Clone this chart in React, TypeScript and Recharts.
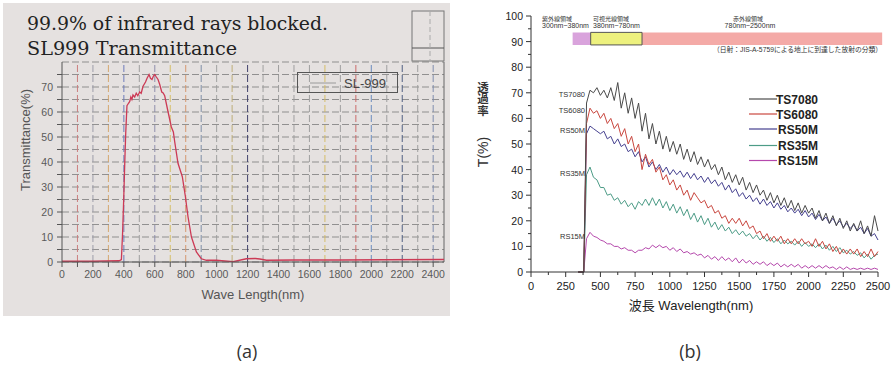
import React from 'react';
import { LineChart, Line, XAxis, YAxis, CartesianGrid, ReferenceLine, ReferenceArea, Legend } from 'recharts';

// ---------- panel (a): SL-999 ----------
const slWave = [0, 200, 370, 384, 392, 399, 406, 412, 420, 430, 438, 445, 452, 459, 470, 480, 490, 502, 512, 524, 540, 550, 563, 572, 582, 592, 600, 610, 621, 632, 645, 654, 664, 686, 707, 720, 729, 750, 778, 798, 815, 837, 869, 901, 934, 998, 1106, 1192, 1250, 1279, 1322, 1500, 1800, 2100, 2470];
const slTrans = [0.3, 0.3, 0.5, 1, 12, 25, 40, 51.5, 62.5, 63.5, 64.2, 66, 65, 66.8, 66, 67.5, 66.5, 68, 67.5, 70.3, 72, 73.5, 75, 73.5, 73, 74.5, 75, 74, 73, 71, 68, 67.6, 66.5, 60, 54, 52, 48, 39.5, 34.1, 26.1, 18, 10, 4, 1.3, 0.7, 0.7, 0.1, 1.3, 1.4, 1.2, 0.7, 0.8, 0.8, 0.9, 1];
const slXTicks = [0, 100, 200, 300, 400, 500, 600, 700, 800, 900, 1000, 1100, 1200, 1300, 1400, 1500, 1600, 1700, 1800, 1900, 2000, 2100, 2200, 2300, 2400];
const slYTicks = [0, 5, 10, 15, 20, 25, 30, 35, 40, 45, 50, 55, 60, 65, 70, 75];
const slGridX = [100, 200, 300, 400, 500, 600, 700, 800, 900, 1000, 1100, 1200, 1300, 1400, 1500, 1600, 1700, 1800, 1900, 2000, 2100, 2200, 2300, 2400];
const slGridColors = ['#c97a7a', '#9a9aa6', '#d4a46a', '#6676b8', '#9c9c9c', '#8a8aaa', '#d4bc62', '#d4946a', '#7a8aa4', '#9c9c9c', '#bcac74', '#3a3a66', '#9c9c9c', '#9c9c9c', '#9c9c9c', '#9c9c9c', '#d4bc62', '#9c9c9c', '#c96464', '#6688bc', '#9c9c9c', '#4a5a7c', '#9c9c9c', '#7a8aac'];

// ---------- panel (b): films ----------
const nmB = [340, 380,
  400, 425, 450, 475, 500, 525, 550, 575,
  600, 625, 650, 675, 700, 725, 750, 775,
  800, 825, 850, 875, 900, 925, 950, 975,
  1000, 1025, 1050, 1075, 1100, 1125, 1150, 1175,
  1200, 1225, 1250, 1275, 1300, 1325, 1350, 1375,
  1400, 1425, 1450, 1475, 1500, 1525, 1550, 1575,
  1600, 1625, 1650, 1675, 1700, 1725, 1750, 1775,
  1800, 1825, 1850, 1875, 1900, 1925, 1950, 1975,
  2000, 2025, 2050, 2075, 2100, 2125, 2150, 2175,
  2200, 2225, 2250, 2275, 2300, 2325, 2350, 2375,
  2400, 2425, 2450, 2475, 2500];
const ts7080 = [0, 0,
  66, 71, 70, 72, 69, 71, 68, 72,
  67, 74, 64, 70, 62, 68, 60, 66,
  55, 62, 52, 58, 50, 55, 48, 53,
  47, 51, 46, 50, 44, 48, 43, 47,
  42, 45, 41, 44, 40, 42, 38, 41,
  36, 39, 35, 38, 34, 37, 32, 35,
  31, 34, 30, 32, 28, 31, 27, 30,
  26, 29, 25, 28, 24, 27, 23, 26,
  23, 25, 21, 24, 20, 23, 19, 22,
  18, 21, 17, 20, 16, 19, 16, 20,
  15, 18, 14, 22, 16];
const ts6080 = [0, 0,
  58, 64, 62, 63, 60, 62, 58, 60,
  56, 58, 53, 56, 50, 53, 47, 50,
  40, 46, 42, 44, 39, 41, 36, 38,
  34, 36, 32, 34, 30, 32, 28, 31,
  29, 27, 28, 25, 26, 23, 24, 21,
  22, 19, 21, 19, 21, 18, 20, 17,
  18, 15, 16, 13, 15, 12, 14, 12,
  14, 11, 13, 11, 13, 11, 13, 11,
  12, 10, 13, 10, 12, 9, 11, 8,
  10, 7, 9, 7, 9, 7, 9, 6,
  8, 6, 9, 6, 8];
const rs50m = [0, 0,
  54, 57, 56, 55, 54, 55, 52, 53,
  50, 52, 49, 50, 47, 48, 45, 47,
  43, 45, 41, 43, 40, 42, 39, 41,
  38, 40, 38, 39.5, 37, 39, 36.5, 38.5,
  36, 37.5, 35, 37, 34.5, 36, 33.5, 35,
  32, 34, 31, 32.5, 29.5, 31, 28.5, 30,
  27.5, 29, 26.5, 28.5, 26, 27.5, 25, 27,
  24.5, 26, 23.5, 25, 23, 24.5, 22, 24,
  21.5, 23, 20.5, 22.5, 20, 21.5, 19, 21,
  18.5, 20, 17.5, 19, 17, 18.5, 16, 17.5,
  15, 17, 14, 15, 12.5];
const rs35m = [0, 0,
  38, 41, 37, 36, 33, 33, 30, 30.5,
  28, 29, 26.5, 28, 25.5, 27, 24.5, 27.5,
  26, 28.5, 26, 29, 26, 28.5, 25, 27.5,
  24, 26.5, 23, 25.5, 22, 24.5, 20.5, 23,
  19.5, 22, 18.5, 21, 17.5, 19.5, 16.5, 18.5,
  16, 17.5, 15, 16.5, 14.5, 16, 14, 15,
  13, 14.5, 12.5, 14, 12, 13.5, 11.5, 13,
  11, 12.5, 11, 12, 10.5, 12, 10, 11.5,
  10, 11, 9.5, 11, 9, 10.5, 8.5, 10,
  8, 9.5, 7.5, 8.5, 7, 8, 6.5, 7.5,
  5.5, 7, 5, 6.5, 7];
const rs15m = [0, 0,
  13, 15.5, 14, 13.5, 12.5, 12, 11, 11,
  10, 10, 9, 9.5, 8.5, 8.5, 7.5, 8.5,
  8.5, 9.5, 9, 10.5, 9.5, 10.5, 9.5, 10,
  8.5, 9.5, 8, 9, 7.5, 8, 7, 7.5,
  6.5, 7, 5.5, 6.5, 5, 6, 4.5, 6,
  4.5, 5.5, 4, 5.5, 3.5, 5, 3.5, 4.5,
  3, 4, 3, 4, 2.5, 3.5, 2.5, 3.5,
  2, 3, 2, 3, 2, 3, 1.5, 2.5,
  1.5, 2.5, 1.5, 2.5, 1.5, 2.5, 1.5, 2,
  1, 2, 1, 2, 1, 1.5, 1, 1.5,
  1, 1.5, 1, 1.5, 1];
const bXTicks = [0, 125, 250, 375, 500, 625, 750, 875, 1000, 1125, 1250, 1375, 1500, 1625, 1750, 1875, 2000, 2125, 2250, 2375, 2500];
const bYTicks = [0, 5, 10, 15, 20, 25, 30, 35, 40, 45, 50, 55, 60, 65, 70, 75, 80, 85, 90, 95, 100];
const bandEdges = [300, 430, 800, 2530];
const bandY = [88.7, 93.6];
const seriesNames = ['TS7080', 'TS6080', 'RS50M', 'RS35M', 'RS15M'];
const seriesKeys = ['ts7080', 'ts6080', 'rs50m', 'rs35m', 'rs15m'];
const seriesColors = ['#4a4a4a', '#c9473f', '#45408f', '#4d9c87', '#b548ac'];

const slData = slWave.map((nm, i) => ({ nm, t: slTrans[i] }));
const bData = nmB.map((nm, i) => ({ nm, ts7080: ts7080[i], ts6080: ts6080[i], rs50m: rs50m[i], rs35m: rs35m[i], rs15m: rs15m[i] }));

const SANS = "'Liberation Sans', Arial, sans-serif";
const CJK = "'Noto Sans CJK JP', sans-serif";
const MIXED = "'Liberation Sans', 'Noto Sans CJK JP', sans-serif";
const SERIF = "'DejaVu Serif', 'Liberation Serif', serif";

const LeftXTick = (p: any) => {
  const { x, y, payload } = p;
  const v = payload.value;
  return (
    <g>
      <line x1={x} y1={y} x2={x} y2={y + 5} stroke="#555" />
      {v % 200 === 0 && (
        <text x={x} y={y + 16} textAnchor="middle" fontSize={10.5} fill="#5a5a5a" style={{ fontFamily: SANS }}>{v}</text>
      )}
    </g>
  );
};
const LeftYTick = (p: any) => {
  const { x, y, payload } = p;
  const v = payload.value;
  return (
    <g>
      <line x1={x - 5} y1={y} x2={x} y2={y} stroke="#555" />
      {v % 10 === 0 && (
        <text x={x - 9} y={y + 4} textAnchor="end" fontSize={10.5} fill="#5a5a5a" style={{ fontFamily: SANS }}>{v}</text>
      )}
    </g>
  );
};
const RightXTick = (p: any) => {
  const { x, y, payload } = p;
  const v = payload.value;
  const major = v % 250 === 0;
  return (
    <g>
      <line x1={x} y1={y} x2={x} y2={y + (major ? 5 : 3)} stroke="#333" />
      {major && (
        <text x={x} y={y + 18} textAnchor="middle" fontSize={11} fill="#222" style={{ fontFamily: SANS }}>{v}</text>
      )}
    </g>
  );
};
const RightYTick = (p: any) => {
  const { x, y, payload } = p;
  const v = payload.value;
  const major = v % 10 === 0;
  return (
    <g>
      <line x1={x - (major ? 5 : 3)} y1={y} x2={x} y2={y} stroke="#333" />
      {major && (
        <text x={x - 8} y={y + 4} textAnchor="end" fontSize={10.5} fill="#222" style={{ fontFamily: SANS }}>{v}</text>
      )}
    </g>
  );
};

const LeftLegend = () => (
  <div style={{ width: 99, height: 19, border: '1px solid #555' }}>
    <svg width={99} height={19} style={{ display: 'block' }}>
      <line x1={12} y1={10} x2={38} y2={10} stroke="#9a9a9a" />
      <text x={46} y={14.5} fontSize={13} fill="#444" style={{ fontFamily: SANS }}>SL-999</text>
    </svg>
  </div>
);

const RightLegend = () => {
  const rowsY = [9, 24, 39, 55.5, 70.5];
  return (
    <svg width={80} height={80} style={{ display: 'block' }}>
      {seriesNames.map((n, i) => (
        <g key={n}>
          <line x1={0} y1={rowsY[i]} x2={28} y2={rowsY[i]} stroke={seriesColors[i]} strokeWidth={1.2} />
          <text x={69} y={rowsY[i] + 4.5} textAnchor="end" fontSize={12} fontWeight="bold" fill="#222" style={{ fontFamily: SANS }}>{n}</text>
        </g>
      ))}
    </svg>
  );
};

export default function App() {
  return (
    <div style={{ position: 'absolute', left: 0, top: 0, width: 891, height: 367, background: '#fff', overflow: 'hidden' }}>
      <div style={{ position: 'absolute', left: 3, top: 3, width: 447, height: 313, background: '#e5e1e0' }} />

      <div style={{ position: 'absolute', left: 0, top: 0 }}>
        <LineChart width={460} height={300} data={slData} margin={{ top: 62, right: 16, bottom: 8, left: 0 }}>
          <CartesianGrid vertical={false} stroke="#7c7c7c" strokeDasharray="7 3" strokeOpacity={0.8} />
          {slGridX.map((v, i) => (
            <ReferenceLine key={v} x={v} stroke={slGridColors[i]} strokeDasharray="7 3" strokeOpacity={0.95} />
          ))}
          <ReferenceLine x={2470} stroke="#666" />
          <XAxis dataKey="nm" type="number" domain={[0, 2470]} ticks={slXTicks} interval={0} tick={(p: any) => <LeftXTick {...p} />} tickLine={false} tickSize={0} tickMargin={0} stroke="#555" height={30} allowDataOverflow />
          <YAxis type="number" domain={[0, 80]} ticks={slYTicks} interval={0} tick={(p: any) => <LeftYTick {...p} />} tickLine={false} tickSize={0} tickMargin={0} stroke="#555" width={62} allowDataOverflow />
          <Line dataKey="t" type="linear" stroke="#cc3a55" strokeWidth={1.3} dot={false} isAnimationActive={false} />
          <Legend layout="vertical" verticalAlign="middle" align="center" wrapperStyle={{ left: 297, top: 72, width: 101, height: 21 }} content={() => <LeftLegend />} />
        </LineChart>
      </div>

      <div style={{ position: 'absolute', left: 445, top: 0 }}>
        <LineChart width={446} height={330} data={bData} margin={{ top: 16, right: 13, bottom: 28, left: 0 }}>
          <ReferenceArea x1={bandEdges[0]} x2={bandEdges[1]} y1={bandY[0]} y2={bandY[1]} fill="#d9a3dc" fillOpacity={1} stroke="none" ifOverflow="visible" />
          <ReferenceArea x1={bandEdges[2]} x2={bandEdges[3]} y1={bandY[0]} y2={bandY[1]} fill="#f4aaa7" fillOpacity={1} stroke="none" ifOverflow="visible" />
          <ReferenceArea x1={bandEdges[1]} x2={bandEdges[2]} y1={bandY[0]} y2={bandY[1]} fill="#edf17e" fillOpacity={1} stroke="#555" strokeWidth={1} ifOverflow="visible" />
          <XAxis dataKey="nm" type="number" domain={[0, 2500]} ticks={bXTicks} interval={0} tick={(p: any) => <RightXTick {...p} />} tickLine={false} tickSize={0} tickMargin={0} stroke="#333" height={30} />
          <YAxis type="number" domain={[0, 100]} ticks={bYTicks} interval={0} tick={(p: any) => <RightYTick {...p} />} tickLine={false} tickSize={0} tickMargin={0} stroke="#333" width={86} />
          {[4, 3, 2, 1, 0].map((i) => (
            <Line key={seriesKeys[i]} dataKey={seriesKeys[i]} name={seriesNames[i]} type="linear" stroke={seriesColors[i]} strokeWidth={1} dot={false} isAnimationActive={false} />
          ))}
          <Legend layout="vertical" verticalAlign="middle" align="center" wrapperStyle={{ left: 304, top: 90, width: 80, height: 80 }} content={() => <RightLegend />} />
        </LineChart>
      </div>

      <svg width={891} height={367} style={{ position: 'absolute', left: 0, top: 0, pointerEvents: 'none' }}>
        {/* panel (a) texts */}
        <text x={27} y={30} fontSize={19} fill="#222" style={{ fontFamily: SERIF }} textLength={301} lengthAdjust="spacingAndGlyphs">99.9% of infrared rays blocked.</text>
        <text x={27} y={55} fontSize={19} fill="#222" style={{ fontFamily: SERIF }} textLength={210} lengthAdjust="spacingAndGlyphs">SL999 Transmittance</text>
        <text transform="translate(30,140) rotate(-90)" textAnchor="middle" fontSize={13} fill="#555" style={{ fontFamily: SANS }}>Transmittance(%)</text>
        <text x={253} y={299} textAnchor="middle" fontSize={13} fill="#555" style={{ fontFamily: SANS }}>Wave Length(nm)</text>
        <rect x={412} y={11} width={32} height={50} fill="none" stroke="#777" strokeWidth={1} />
        <line x1={412} y1={48} x2={444} y2={48} stroke="#555" />
        <line x1={430} y1={11} x2={430} y2={61} stroke="#aaa" strokeDasharray="5 3" />

        {/* panel (b) texts */}
        <text x={542} y={21} fontSize={6} fill="#333" style={{ fontFamily: CJK }}>紫外線領域</text>
        <text x={542} y={28} fontSize={7} fill="#333" style={{ fontFamily: SANS }}>300nm~380nm</text>
        <text x={593} y={21} fontSize={6} fill="#333" style={{ fontFamily: CJK }}>可視光線領域</text>
        <text x={593} y={28} fontSize={7} fill="#333" style={{ fontFamily: SANS }}>380nm~780nm</text>
        <text x={748} y={21} textAnchor="middle" fontSize={6} fill="#333" style={{ fontFamily: CJK }}>赤外線領域</text>
        <text x={750} y={28} textAnchor="middle" fontSize={7} fill="#333" style={{ fontFamily: SANS }}>780nm~2500nm</text>
        <text x={713} y={51.5} fontSize={7} fill="#333" style={{ fontFamily: MIXED }} textLength={169} lengthAdjust="spacingAndGlyphs">（日射：JIS-A-5759による地上に到達した放射の分類）</text>

        <text x={585} y={96.5} textAnchor="end" fontSize={7.5} fill="#333" style={{ fontFamily: SANS }}>TS7080</text>
        <text x={585} y={113} textAnchor="end" fontSize={7.5} fill="#333" style={{ fontFamily: SANS }}>TS6080</text>
        <text x={585} y={132.5} textAnchor="end" fontSize={7.5} fill="#333" style={{ fontFamily: SANS }}>RS50M</text>
        <text x={585} y={175.5} textAnchor="end" fontSize={7.5} fill="#333" style={{ fontFamily: SANS }}>RS35M</text>
        <text x={585} y={239} textAnchor="end" fontSize={7.5} fill="#333" style={{ fontFamily: SANS }}>RS15M</text>

        <text x={483} y={99} textAnchor="middle" fontSize={11.5} fontWeight="bold" fill="#333" style={{ fontFamily: CJK, writingMode: 'vertical-rl' as any }}>透過率</text>
        <text transform="translate(488,152) rotate(-90)" textAnchor="middle" fontSize={14} fill="#333" style={{ fontFamily: SANS }}>T(%)</text>
        <text x={691} y={310} textAnchor="middle" fontSize={13} fill="#222" style={{ fontFamily: MIXED }}>波長 Wavelength(nm)</text>

        {/* captions */}
        <text x={247} y={358} textAnchor="middle" fontSize={18} fill="#333" style={{ fontFamily: "'Open Sans', sans-serif" }}>(a)</text>
        <text x={690} y={358} textAnchor="middle" fontSize={18} fill="#333" style={{ fontFamily: "'Open Sans', sans-serif" }}>(b)</text>
      </svg>
    </div>
  );
}
